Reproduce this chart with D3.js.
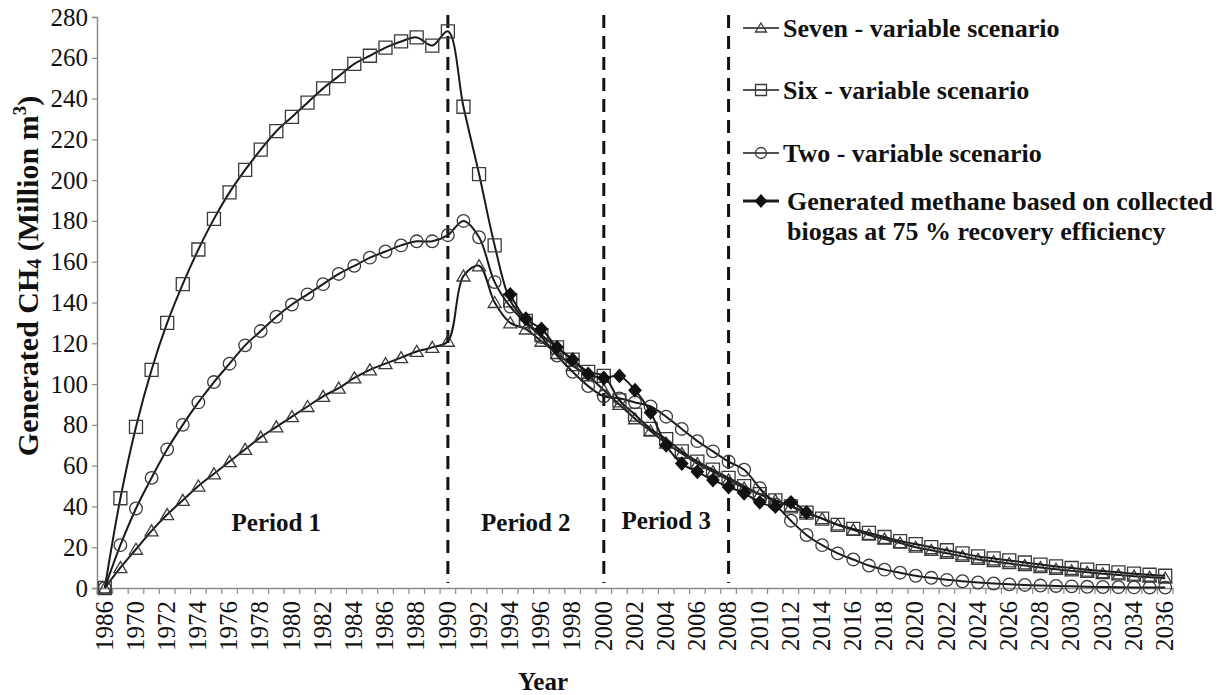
<!DOCTYPE html>
<html>
<head>
<meta charset="utf-8">
<script src="https://cdn.jsdelivr.net/npm/d3@7/dist/d3.min.js"></script>
<style>
  body { margin: 0; background: #fff; }
  svg { display: block; }
  svg text { font-family: "Liberation Serif", "Times New Roman", serif !important; fill: #111; }
</style>
</head>
<body>
<svg id="chart" width="1222" height="695"></svg>
<script>
// Years on the category axis (one marker per year)
const years = d3.range(1968, 2037);

// Generated CH4 (million m3) per scenario, 1968-2036
const sevenVariable = [
  0, 10, 19, 28, 36, 43, 50, 56, 62, 68,
  74, 79, 84, 89, 94, 98, 103, 107, 110, 113,
  116, 118, 121, 153, 158, 140, 130, 127, 121, 115,
  109, 104, 97, 90, 83, 77, 71, 66, 61, 57,
  53, 49, 46, 43, 40, 37, 34, 31, 28.5, 26,
  24, 22, 20, 18.5, 17, 15.5, 14, 13, 12, 11,
  10, 9.2, 8.4, 7.7, 7, 6.4, 5.8, 5.3, 4.8
];
const sixVariable = [
  0, 44, 79, 107, 130, 149, 166, 181, 194, 205,
  215, 224, 231, 238, 245, 251, 257, 261, 265, 268,
  270, 266, 273, 236, 203, 168, 141, 131, 124, 118,
  112, 106, 104, 92, 85, 78, 73, 67, 62, 58,
  54, 50, 46, 43, 40, 37, 34, 31, 29, 27,
  25, 23, 21.5, 20, 18.5, 17, 15.5, 14.5, 13.5, 12.5,
  11.5, 10.6, 9.8, 9, 8.3, 7.7, 7, 6.5, 6
];
const twoVariable = [
  0, 21, 39, 54, 68, 80, 91, 101, 110, 119,
  126, 133, 139, 144, 149, 154, 158, 162, 165, 168,
  170, 170, 173, 180, 172, 150, 138, 130, 123, 114,
  106, 99, 94, 93, 91, 89, 84, 78, 72, 67,
  62, 58, 49, 41, 33, 26, 21, 17, 14, 11,
  9, 7.5, 6, 5, 4, 3.3, 2.7, 2.2, 1.8, 1.5,
  1.2, 1, 0.8, 0.6, 0.5, 0.4, 0.3, 0.2, 0.2
];

// Methane from collected biogas (75 % recovery), 1994-2013
const collectedYears = d3.range(1994, 2014);
const collectedMethane = [
  144, 132, 127, 118, 112, 105, 103, 104, 97, 86,
  70, 61, 57, 53, 49.5, 46.5, 42, 40, 42, 37
];

const yTickValues = [0, 20, 40, 60, 80, 100, 120, 140, 160, 180, 200, 220, 240, 260, 280];
// Printed labels for every other year on the category axis
const xTickLabels = [
  "1986", "1970", "1972", "1974", "1976", "1978", "1980", "1982", "1984", "1986",
  "1988", "1990", "1992", "1994", "1996", "1998", "2000", "2002", "2004", "2006",
  "2008", "2010", "2012", "2014", "2016", "2018", "2020", "2022", "2024", "2026",
  "2028", "2030", "2032", "2034", "2036"
];
const periodBreakYears = [1990, 2000, 2008];
const periodNames = ["Period 1", "Period 2", "Period 3"];
const periodCentreYears = [1979, 1995, 2004];

const legendNames = [
  ["Seven - variable scenario"],
  ["Six - variable scenario"],
  ["Two - variable scenario"],
  ["Generated methane based on collected", "biogas at 75 % recovery efficiency"]
];

const svg = d3.select("#chart");
const plotLeft = 97, plotRight = 1173, plotTop = 17, plotBottom = 588;
const serif = '"Liberation Serif", "Times New Roman", serif';

const x = d3.scaleBand().domain(years).range([plotLeft, plotRight]).padding(0);
const cx = yr => x(yr) + x.bandwidth() / 2;
const y = d3.scaleLinear().domain([0, 280]).range([plotBottom, plotTop]);

const axisGrey = "#8a8a8a";

// Y axis
const yAxis = svg.append("g")
  .attr("transform", `translate(${plotLeft},0)`)
  .call(d3.axisLeft(y).tickValues(yTickValues).tickSize(5).tickPadding(4).tickFormat(d3.format("d")));
yAxis.attr("font-family", null);
yAxis.select(".domain").attr("stroke", axisGrey).attr("stroke-width", 1.5);
yAxis.selectAll(".tick line").attr("stroke", axisGrey).attr("stroke-width", 1.2);
yAxis.selectAll(".tick text").style("font-family", serif).style("font-size", "25px").attr("fill", "#111");

// X axis: labels on even years, ticks between categories
const labelYears = years.filter((d, i) => i % 2 === 0);
const xAxis = svg.append("g")
  .attr("transform", `translate(0,${plotBottom})`)
  .call(d3.axisBottom(x).tickValues(labelYears).tickSize(0)
        .tickFormat((d, i) => xTickLabels[i]));
xAxis.attr("font-family", null);
xAxis.select(".domain").attr("stroke", axisGrey).attr("stroke-width", 1.5);
xAxis.selectAll(".tick text")
  .style("font-family", serif).style("font-size", "25px").attr("fill", "#111")
  .attr("transform", "rotate(-90)")
  .attr("text-anchor", "end")
  .attr("x", -13).attr("y", -1).attr("dy", "0.35em");
xAxis.selectAll(".boundary")
  .data(years.concat([2037]))
  .join("line")
  .attr("class", "boundary")
  .attr("x1", d => d === 2037 ? plotRight : x(d))
  .attr("x2", d => d === 2037 ? plotRight : x(d))
  .attr("y1", 0).attr("y2", 6)
  .attr("stroke", axisGrey).attr("stroke-width", 1.2);

// Axis titles
svg.append("text")
  .attr("x", 543).attr("y", 690)
  .attr("text-anchor", "middle")
  .style("font-family", serif).style("font-size", "25px").attr("font-weight", "bold")
  .text("Year");

const yTitle = svg.append("text")
  .attr("transform", "translate(27,276) rotate(-90)")
  .attr("text-anchor", "middle").attr("dy", "0.35em")
  .style("font-family", serif).style("font-size", "30px").attr("font-weight", "bold");
yTitle.append("tspan").text("Generated CH");
yTitle.append("tspan").style("font-size", "20px").attr("dy", 3).text("4");
yTitle.append("tspan").attr("dy", -3).text(" (Million m");
yTitle.append("tspan").style("font-size", "19px").attr("dy", -12).text("3");
yTitle.append("tspan").attr("dy", 12).text(")");

// Period boundaries
svg.selectAll(".period-line")
  .data(periodBreakYears)
  .join("line")
  .attr("class", "period-line")
  .attr("x1", d => cx(d)).attr("x2", d => cx(d))
  .attr("y1", 15).attr("y2", 583)
  .attr("stroke", "#111").attr("stroke-width", 3)
  .attr("stroke-dasharray", "13,8");

svg.selectAll(".period-label")
  .data(periodNames)
  .join("text")
  .attr("class", "period-label")
  .attr("x", (d, i) => cx(periodCentreYears[i]))
  .attr("y", (d, i) => y(i === 2 ? 33 : 32))
  .attr("dy", "0.35em")
  .attr("text-anchor", "middle")
  .style("font-family", serif).style("font-size", "25px").attr("font-weight", "bold")
  .text(d => d);

// Marker shapes
const markerPath = {
  triangle: "M0,-6L6.5,5L-6.5,5Z",
  square: "M-6.5,-6.5H6.5V6.5H-6.5Z",
  circle: d3.symbol(d3.symbolCircle, Math.PI * 6.3 * 6.3)(),
  diamond: "M0,-6.5L6,0L0,6.5L-6,0Z"
};

const line = d3.line()
  .x(d => cx(d[0]))
  .y(d => y(d[1]))
  .curve(d3.curveCatmullRom.alpha(0.5));

const seriesList = [
  { values: sevenVariable, yrs: years, marker: "triangle", filled: false },
  { values: sixVariable, yrs: years, marker: "square", filled: false },
  { values: twoVariable, yrs: years, marker: "circle", filled: false },
  { values: collectedMethane, yrs: collectedYears, marker: "diamond", filled: true }
];

seriesList.forEach(s => {
  const pts = s.yrs.map((yr, i) => [yr, s.values[i]]);
  const g = svg.append("g");
  g.append("path")
    .attr("d", line(pts))
    .attr("fill", "none")
    .attr("stroke", "#1a1a1a")
    .attr("stroke-width", 2);
  g.selectAll("path.m")
    .data(pts)
    .join("path")
    .attr("class", "m")
    .attr("transform", d => `translate(${cx(d[0])},${y(d[1])})`)
    .attr("d", markerPath[s.marker])
    .attr("fill", s.filled ? "#111" : "none")
    .attr("stroke", s.filled ? "#111" : "#3a3a3a")
    .attr("stroke-width", 1.3);
});

// Legend
const legendRows = [28, 90, 153, 201];
const legendMarker = {
  triangle: "M0,-5L5.5,4L-5.5,4Z",
  square: "M-5.5,-5.5H5.5V5.5H-5.5Z",
  circle: d3.symbol(d3.symbolCircle, Math.PI * 5.5 * 5.5)(),
  diamond: "M0,-6L5.5,0L0,6L-5.5,0Z"
};
const legend = svg.append("g");
seriesList.forEach((s, i) => {
  const ly = legendRows[i];
  legend.append("line")
    .attr("x1", 743).attr("x2", 779).attr("y1", ly).attr("y2", ly)
    .attr("stroke", "#1a1a1a").attr("stroke-width", s.filled ? 3 : 1.6);
  legend.append("path")
    .attr("transform", `translate(761,${ly})`)
    .attr("d", legendMarker[s.marker])
    .attr("fill", s.filled ? "#111" : "none")
    .attr("stroke", s.filled ? "#111" : "#3a3a3a")
    .attr("stroke-width", 1.3);
  const tx = s.filled ? 787 : 783;
  const t = legend.append("text")
    .attr("x", tx).attr("y", ly)
    .style("font-family", serif).style("font-size", "26px").attr("font-weight", "bold");
  legendNames[i].forEach((name, j) => {
    t.append("tspan").attr("x", tx).attr("dy", j === 0 ? "0.35em" : 30).text(name);
  });
});
</script>
</body>
</html>
